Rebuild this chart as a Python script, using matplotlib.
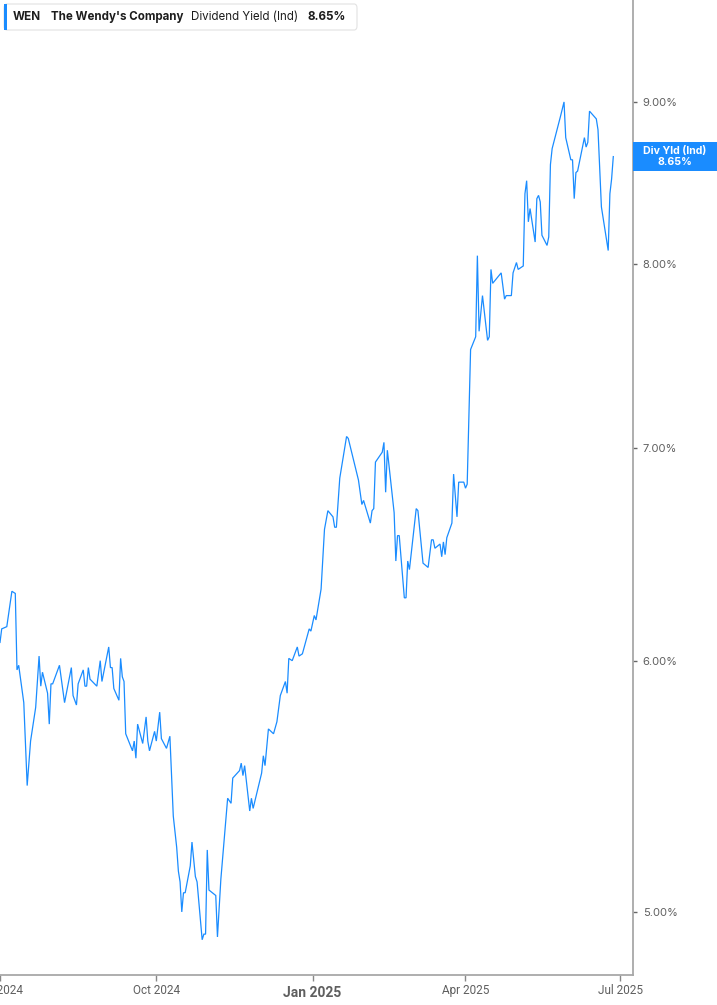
import matplotlib
matplotlib.use('Agg')
import matplotlib.pyplot as plt
import matplotlib.dates as mdates
from matplotlib.patches import Rectangle, FancyBboxPatch
from matplotlib.ticker import FixedLocator, FuncFormatter, NullLocator
import pandas as pd

# ---------- Data ----------
DATES = [
    '2024-07-01', '2024-07-02', '2024-07-05', '2024-07-08', '2024-07-10', '2024-07-11', '2024-07-12',
    '2024-07-15', '2024-07-17', '2024-07-19', '2024-07-22', '2024-07-24', '2024-07-25', '2024-07-26',
    '2024-07-29', '2024-07-30', '2024-07-31', '2024-08-01', '2024-08-05', '2024-08-08', '2024-08-12',
    '2024-08-13', '2024-08-15', '2024-08-16', '2024-08-19', '2024-08-20', '2024-08-21', '2024-08-22',
    '2024-08-23', '2024-08-27', '2024-08-29', '2024-08-30', '2024-09-03', '2024-09-04', '2024-09-05',
    '2024-09-06', '2024-09-09', '2024-09-10', '2024-09-11', '2024-09-12', '2024-09-13', '2024-09-17',
    '2024-09-18', '2024-09-19', '2024-09-20', '2024-09-23', '2024-09-25', '2024-09-26', '2024-09-27',
    '2024-09-30', '2024-10-01', '2024-10-03', '2024-10-04', '2024-10-07', '2024-10-09', '2024-10-11',
    '2024-10-13', '2024-10-14', '2024-10-15', '2024-10-16', '2024-10-17', '2024-10-18', '2024-10-21',
    '2024-10-22', '2024-10-24', '2024-10-25', '2024-10-28', '2024-10-29', '2024-10-30', '2024-10-31',
    '2024-11-01', '2024-11-05', '2024-11-06', '2024-11-08', '2024-11-12', '2024-11-14', '2024-11-15',
    '2024-11-19', '2024-11-20', '2024-11-21', '2024-11-22', '2024-11-25', '2024-11-26', '2024-11-27',
    '2024-12-02', '2024-12-03', '2024-12-04', '2024-12-06', '2024-12-09', '2024-12-11', '2024-12-13',
    '2024-12-16', '2024-12-17', '2024-12-18', '2024-12-20', '2024-12-23', '2024-12-24', '2024-12-26',
    '2024-12-30', '2024-12-31', '2025-01-02', '2025-01-03', '2025-01-06', '2025-01-08', '2025-01-10',
    '2025-01-13', '2025-01-14', '2025-01-15', '2025-01-17', '2025-01-21', '2025-01-22', '2025-01-28',
    '2025-01-30', '2025-01-31', '2025-02-04', '2025-02-05', '2025-02-06', '2025-02-07', '2025-02-11',
    '2025-02-12', '2025-02-13', '2025-02-14', '2025-02-18', '2025-02-19', '2025-02-20', '2025-02-21',
    '2025-02-24', '2025-02-25', '2025-02-26', '2025-02-27', '2025-03-03', '2025-03-04', '2025-03-07',
    '2025-03-10', '2025-03-12', '2025-03-13', '2025-03-14', '2025-03-17', '2025-03-18', '2025-03-19',
    '2025-03-20', '2025-03-21', '2025-03-24', '2025-03-25', '2025-03-27', '2025-03-28', '2025-03-31',
    '2025-04-01', '2025-04-02', '2025-04-04', '2025-04-07', '2025-04-08', '2025-04-09', '2025-04-11',
    '2025-04-14', '2025-04-15', '2025-04-16', '2025-04-17', '2025-04-22', '2025-04-24', '2025-04-25',
    '2025-04-28', '2025-04-29', '2025-05-01', '2025-05-02', '2025-05-05', '2025-05-06', '2025-05-07',
    '2025-05-08', '2025-05-09', '2025-05-12', '2025-05-13', '2025-05-14', '2025-05-15', '2025-05-16',
    '2025-05-19', '2025-05-20', '2025-05-21', '2025-05-22', '2025-05-27', '2025-05-29', '2025-05-30',
    '2025-06-02', '2025-06-03', '2025-06-04', '2025-06-05', '2025-06-06', '2025-06-10', '2025-06-11',
    '2025-06-12', '2025-06-13', '2025-06-17', '2025-06-18', '2025-06-20', '2025-06-24', '2025-06-25',
    '2025-06-26', '2025-06-27',
]
YIELD = [
    6.08, 6.14, 6.15, 6.31, 6.30, 5.96, 5.98,
    5.82, 5.48, 5.66, 5.80, 6.02, 5.89, 5.95,
    5.86, 5.73, 5.90, 5.90, 5.98, 5.82, 5.97,
    5.85, 5.81, 5.90, 5.96, 5.89, 5.89, 5.97,
    5.92, 5.89, 6.00, 5.91, 6.06, 5.97, 5.97,
    5.88, 5.83, 6.01, 5.93, 5.91, 5.69, 5.62,
    5.66, 5.59, 5.73, 5.65, 5.76, 5.66, 5.62,
    5.70, 5.66, 5.78, 5.67, 5.63, 5.68, 5.36,
    5.24, 5.15, 5.11, 5.00, 5.07, 5.07, 5.17,
    5.26, 5.13, 5.11, 4.90, 4.92, 4.92, 5.23,
    5.08, 5.06, 4.91, 5.12, 5.43, 5.41, 5.51,
    5.54, 5.57, 5.52, 5.56, 5.38, 5.43, 5.39,
    5.53, 5.60, 5.56, 5.71, 5.69, 5.74, 5.85,
    5.91, 5.86, 6.01, 6.00, 6.06, 6.02, 6.03,
    6.14, 6.13, 6.20, 6.18, 6.32, 6.60, 6.69,
    6.66, 6.61, 6.61, 6.85, 7.06, 7.05, 6.84,
    6.72, 6.74, 6.63, 6.69, 6.70, 6.93, 6.98,
    7.03, 6.78, 6.99, 6.68, 6.45, 6.57, 6.57,
    6.28, 6.28, 6.45, 6.41, 6.70, 6.69, 6.44,
    6.42, 6.55, 6.55, 6.51, 6.53, 6.47, 6.54,
    6.48, 6.56, 6.63, 6.87, 6.66, 6.83, 6.83,
    6.80, 6.82, 7.52, 7.59, 8.05, 7.62, 7.82,
    7.57, 7.59, 7.97, 7.89, 7.95, 7.80, 7.82,
    7.82, 7.95, 8.01, 7.97, 7.99, 8.42, 8.50,
    8.25, 8.33, 8.13, 8.39, 8.41, 8.37, 8.17,
    8.11, 8.16, 8.60, 8.70, 8.91, 9.00, 8.77,
    8.63, 8.63, 8.39, 8.55, 8.56, 8.77, 8.71,
    8.74, 8.94, 8.89, 8.82, 8.34, 8.08, 8.42,
    8.51, 8.65,
]
Y_TICKS = [5, 6, 7, 8, 9]
X_TICKS = ['2024-07-01', '2024-10-01', '2025-01-01', '2025-04-01', '2025-07-01']
X_TICK_LABELS = ['Jul 2024', 'Oct 2024', 'Jan 2025', 'Apr 2025', 'Jul 2025']

TICKER = 'WEN'
COMPANY = "The Wendy's Company"
METRIC = 'Dividend Yield (Ind)'

LINE_COLOR = '#1a8cff'
AXIS_COLOR = '#a8a8a8'
TICK_TEXT = '#5f5f5f'
NARROW = ['Liberation Sans Narrow', 'Roboto', 'DejaVu Sans']
SANS = ['Inter', 'Roboto', 'DejaVu Sans']

W, H = 717, 1005


def fx(px):
    return px / W


def fy(py):
    return 1 - py / H


dates = pd.to_datetime(DATES)

fig = plt.figure(figsize=(W / 100, H / 100), dpi=100)
ax = fig.add_axes([0, 1 - 974.5 / H, 633 / W, 974.5 / H])

ax.plot(dates, YIELD, color=LINE_COLOR, linewidth=0.9, solid_joinstyle='miter')

ax.set_yscale('log')
ax.set_ylim(4.778, 9.691)
x0 = pd.Timestamp('2024-07-01')
ax.set_xlim(mdates.date2num(x0), mdates.date2num(x0) + 372.6)

# y axis on the right, percent labels
ax.yaxis.tick_right()
ax.yaxis.set_major_locator(FixedLocator(Y_TICKS))
ax.yaxis.set_minor_locator(NullLocator())
ax.yaxis.set_major_formatter(FuncFormatter(lambda v, _: f'{v:.2f}%'))
ax.tick_params(axis='y', direction='out', length=3, width=1.0, color='#666666',
               pad=4, labelsize=8, labelcolor=TICK_TEXT)
for lbl in ax.get_yticklabels():
    lbl.set_family(SANS)

ax.set_xticks(mdates.date2num(pd.to_datetime(X_TICKS)))
ax.set_xticklabels(X_TICK_LABELS)
ax.xaxis.set_minor_locator(NullLocator())
ax.tick_params(axis='x', direction='out', length=4, width=1.0, color='#888888',
               pad=3, labelsize=8.5, labelcolor=TICK_TEXT)
for lbl in ax.get_xticklabels():
    lbl.set_family(NARROW)
    if lbl.get_text().startswith('Jan'):
        lbl.set_fontweight('bold')
        lbl.set_fontsize(10)
        lbl.set_y(-0.002)

for side in ['top', 'left']:
    ax.spines[side].set_visible(False)
for side in ['right', 'bottom']:
    ax.spines[side].set_color(AXIS_COLOR)
    ax.spines[side].set_linewidth(1.3)

# ---------- header legend box ----------
fig.add_artist(FancyBboxPatch((fx(4), fy(30)), fx(353), 26 / H,
                              boxstyle='round,pad=0,rounding_size=0.004',
                              transform=fig.transFigure, facecolor='white',
                              edgecolor='#e2e2e2', linewidth=0.8))
fig.add_artist(Rectangle((fx(4), fy(30)), fx(3), 26 / H, transform=fig.transFigure,
                         facecolor=LINE_COLOR, edgecolor='none'))
head_y = fy(17)
fig.text(fx(13), head_y, TICKER, fontsize=8.4, fontweight='bold', color='#1d1d1d',
         va='center', family=SANS)
fig.text(fx(51), head_y, COMPANY, fontsize=8.3, fontweight='bold', color='#1d1d1d',
         va='center', family=SANS)
fig.text(fx(191), head_y, METRIC, fontsize=8.3, color='#1d1d1d',
         va='center', family=SANS)
fig.text(fx(308), head_y, f'{YIELD[-1]:.2f}%', fontsize=8.4, fontweight='bold',
         color='#1d1d1d', va='center', family=SANS)

# ---------- last value tag on the right axis ----------
fig.canvas.draw()
y_disp = ax.transData.transform((mdates.date2num(dates[-1]), YIELD[-1]))[1]
y_fig = fig.transFigure.inverted().transform((0, y_disp))[1]
tag_h = 29.6 / H
fig.add_artist(Rectangle((fx(633), y_fig - tag_h / 2), fx(84), tag_h,
                         transform=fig.transFigure, facecolor=LINE_COLOR, edgecolor='none'))
fig.text(fx(675), y_fig + 5.2 / H, 'Div Yld (Ind)', fontsize=7.6, fontweight='bold',
         color='white', ha='center', va='center', family=SANS)
fig.text(fx(675), y_fig - 5.2 / H, f'{YIELD[-1]:.2f}%', fontsize=7.6, fontweight='bold',
         color='white', ha='center', va='center', family=SANS)

fig.savefig('out.png', dpi=100, facecolor='white')
